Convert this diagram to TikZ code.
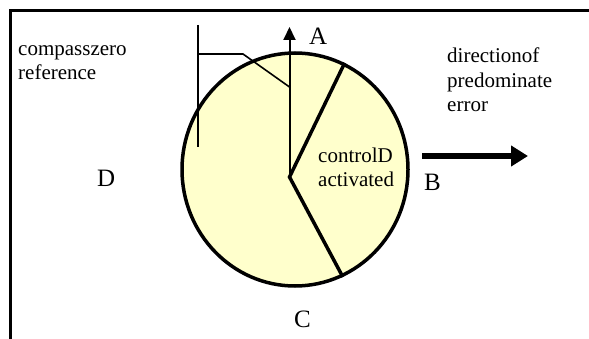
\documentclass[tikz,border=0pt]{standalone}
\usepackage{fontspec}
\setmainfont{Liberation Serif}
\usetikzlibrary{arrows.meta,shapes.geometric}
\definecolor{dialfill}{HTML}{FFFFCC}
\definecolor{ink}{HTML}{000000}
\tikzset{
  every node/.style={text=ink,inner sep=0pt},
  dial/.style={ellipse,draw=ink,line width=3.5pt,fill=dialfill,minimum width=226pt,minimum height=233pt},
  sector/.style={draw=ink,line width=3.5pt},
  north/.style={-{Triangle[length=13pt,width=12pt]},line width=2pt,draw=ink},
  errarrow/.style={-{Triangle[length=17pt,width=20pt]},line width=6.5pt,draw=ink},
  bracket/.style={draw=ink,line width=1.6pt},
  frame/.style={draw=ink,line width=3pt},
  compass/.style={font=\fontsize{25}{30}\selectfont,anchor=base west},
  note/.style={font=\fontsize{21}{24.5}\selectfont,align=left,anchor=base west},
}
\begin{document}
\begin{tikzpicture}[x=1pt,y=-1pt]
\useasboundingbox (0,0) rectangle (589,339);

% frame (cut off right and bottom)
\draw[frame] (10.5,339) -- (10.5,10.5) -- (589,10.5);

% dial and control sector
\node[dial] (dial) at (295,169.5) {};
\coordinate (hub) at (289.5,177);
\coordinate (ntip) at (289.5,27);
\draw[sector] (dial.65) -- (hub) -- (dial.-66);
\draw[north] (hub) -- (ntip);

% zero reference bracket
\coordinate (reftop) at (198,25);
\coordinate (refbot) at (198,147);
\coordinate (refknee) at (198,54);
\coordinate (refbend) at (243,54);
\coordinate (refend) at (289.5,87);
\draw[bracket] (reftop) -- (refbot);
\draw[bracket] (refknee) -- (refbend) -- (refend);

% error direction
\coordinate (errtail) at (422,156);
\coordinate (errtip) at (528,156);
\draw[errarrow] (errtail) -- (errtip);

% labels (base = last line)
\node[compass] (A) at (309,45) {A};
\node[compass] (B) at (424,191) {B};
\node[compass] (C) at (294,327) {C};
\node[compass] (D) at (97,187) {D};
\node[note] (zeroref) at (18,80) {compasszero\\reference};
\node[note] (errdir) at (447,112) {directionof\\predominate\\error};
\node[note] (ctrl) at (318,187) {controlD\\activated};

\end{tikzpicture}
\end{document}
